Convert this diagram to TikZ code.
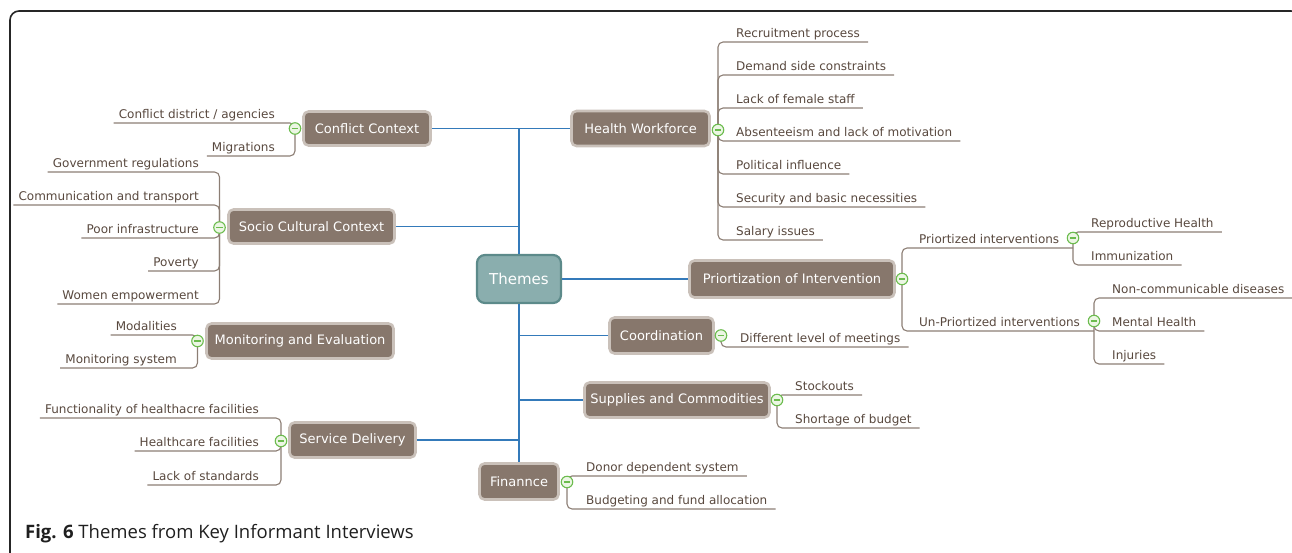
\documentclass[tikz,border=0pt]{standalone}
\usepackage{fontspec}
\setmainfont{DejaVu Sans}
\newfontfamily\captionfont{Open Sans}
\usetikzlibrary{calc}

\definecolor{topicfill}{RGB}{135,119,108}
\definecolor{topichalo}{RGB}{202,193,186}
\definecolor{rootfill}{RGB}{138,174,174}
\definecolor{rootedge}{RGB}{92,138,138}
\definecolor{trunkblue}{RGB}{52,122,186}
\definecolor{leaftext}{RGB}{88,72,62}
\definecolor{leafrule}{RGB}{140,126,116}
\definecolor{markgreen}{RGB}{108,188,78}
\definecolor{markfill}{RGB}{236,246,228}

\tikzset{
  topic/.style={rectangle, rounded corners=5, fill=topicfill, draw=topichalo,
    line width=2.6, text=white, inner sep=0,
    font=\fontsize{13}{15}\selectfont},
  root/.style={rectangle, rounded corners=8, fill=rootfill, draw=rootedge,
    line width=2.2, text=white, inner sep=0,
    font=\fontsize{15}{18}\selectfont},
  branch/.style={draw=trunkblue, line width=1.4},
  leaf/.style={text=leaftext, inner sep=0, font=\fontsize{12}{14}\selectfont},
  leafline/.style={draw=leafrule, line width=1.1, rounded corners=5},
  fold/.style={circle, minimum size=11.5, inner sep=0, draw=markgreen,
    line width=1.1, fill=markfill,
    path picture={\draw[markgreen, line width=1.3]
      ([xshift=-3.2]path picture bounding box.center) --
      ([xshift=3.2]path picture bounding box.center);}},
}

% leaf to the right of its fold marker: name, marker, text x, rule y, text
\newcommand\leafR[5]{%
  \node[leaf, anchor=base west] (#1) at (#3,#4-5) {#5};
  \coordinate (#1-e) at ($(#1.base east)+(8,5)$);
  \draw[leafline] (#2.center) |- (#1-e);}
% leaf to the left of its fold marker: name, marker, text right x, rule y, text
\newcommand\leafL[5]{%
  \node[leaf, anchor=base east] (#1) at (#3,#4-5) {#5};
  \coordinate (#1-e) at ($(#1.base west)+(-5,5)$);
  \draw[leafline] (#2.center) |- (#1-e);}

\begin{document}
\begin{tikzpicture}[x=1pt, y=-1pt]
\useasboundingbox (0,0) rectangle (1292,552);

% frame
\draw[black!85, line width=1.6, rounded corners=9]
  (10,560) -- (10,11) -- (1300,11) -- (1300,560);

% central theme and the main topics
\node[root, minimum width=84, minimum height=48] (root) at (519,279) {Themes};
\node[topic, minimum width=127, minimum height=34] (cc) at (367,128.5) {Conflict Context};
\node[topic, minimum width=138, minimum height=35] (hw) at (640.5,128.5) {Health Workforce};
\node[topic, minimum width=166, minimum height=34] (sc) at (311.5,226.5) {Socio Cultural Context};
\node[topic, minimum width=187, minimum height=35] (me) at (300,341) {Monitoring and Evaluation};
\node[topic, minimum width=126, minimum height=35] (sd) at (352.5,440) {Service Delivery};
\node[topic, minimum width=205, minimum height=37] (pi) at (792,279) {Priortization of Intervention};
\node[topic, minimum width=104, minimum height=36] (co) at (661.5,335.5) {Coordination};
\node[topic, minimum width=185, minimum height=35] (su) at (677,400) {Supplies and Commodities};
\node[topic, minimum width=79, minimum height=36] (fi) at (519,481.5) {Finannce};

% blue trunk and branches
\draw[branch] (cc.east) -- (hw.west);
\draw[branch] (root.north) -- (root.north |- hw.west);
\draw[branch] (sc.east) -- (sc.east -| root.north);
\draw[branch] (root.east) -- (pi.west);
\draw[branch] (co.west) -- (co.west -| root.south);
\draw[branch] (su.west) -- (su.west -| root.south);
\draw[branch] (sd.east) -- (sd.east -| root.south);
\draw[branch] (root.south) -- (fi.north);

% fold markers
\coordinate (m-cc) at (295,128.5);
\coordinate (m-hw) at (718,130);
\coordinate (m-sc) at (219.5,227.5);
\coordinate (m-me) at (197.5,341);
\coordinate (m-sd) at (281,441);
\coordinate (m-pi) at (902,279);
\coordinate (m-p1) at (1073,238);
\coordinate (m-p2) at (1094,321);
\coordinate (m-co) at (721,335.5);
\coordinate (m-su) at (777,400);
\coordinate (m-fi) at (567,482);

% Conflict Context
\leafL{cc1}{m-cc}{275}{123}{Conflict district / agencies}
\leafL{cc2}{m-cc}{275}{156}{Migrations}

% Socio Cultural Context
\leafL{sc1}{m-sc}{199}{172}{Government regulations}
\leafL{sc2}{m-sc}{199}{205}{Communication and transport}
\leafL{sc3}{m-sc}{199}{238}{Poor infrastructure}
\leafL{sc4}{m-sc}{199}{271}{Poverty}
\leafL{sc5}{m-sc}{199}{304}{Women empowerment}

% Monitoring and Evaluation
\leafL{me1}{m-me}{177}{335}{Modalities}
\leafL{me2}{m-me}{177}{368}{Monitoring system}

% Service Delivery
\leafL{sd1}{m-sd}{259}{418}{Functionality of healthacre facilities}
\leafL{sd2}{m-sd}{259}{451}{Healthcare facilities}
\leafL{sd3}{m-sd}{259}{485}{Lack of standards}

% Health Workforce
\leafR{hw1}{m-hw}{736}{42}{Recruitment process}
\leafR{hw2}{m-hw}{736}{75}{Demand side constraints}
\leafR{hw3}{m-hw}{736}{108}{Lack of female staff}
\leafR{hw4}{m-hw}{736}{141}{Absenteeism and lack of motivation}
\leafR{hw5}{m-hw}{736}{174}{Political influence}
\leafR{hw6}{m-hw}{736}{207}{Security and basic necessities}
\leafR{hw7}{m-hw}{736}{240}{Salary issues}

% Priortization of Intervention
\node[leaf, anchor=base west] (pi1) at (919,243) {Priortized interventions};
\coordinate (pi1-e) at (1073,248);
\draw[leafline] (m-pi) |- (pi1-e);
\node[leaf, anchor=base west] (pi2) at (919,326) {Un-Priortized interventions};
\coordinate (pi2-e) at (1094,331);
\draw[leafline] (m-pi) |- (pi2-e);
\leafR{p11}{m-p1}{1091}{232}{Reproductive Health}
\leafR{p12}{m-p1}{1091}{265}{Immunization}
\leafR{p21}{m-p2}{1112}{298}{Non-communicable diseases}
\leafR{p22}{m-p2}{1112}{331}{Mental Health}
\leafR{p23}{m-p2}{1112}{364}{Injuries}

% Coordination
\leafR{co1}{m-co}{740}{347}{Different level of meetings}

% Supplies and Commodities
\leafR{su1}{m-su}{795}{395}{Stockouts}
\leafR{su2}{m-su}{795}{428}{Shortage of budget}

% Finannce
\leafR{fi1}{m-fi}{586}{476}{Donor dependent system}
\leafR{fi2}{m-fi}{586}{509}{Budgeting and fund allocation}

% markers drawn over the rules
\foreach \m in {cc,hw,sc,me,sd,pi,p1,p2,co,su,fi}
  \node[fold] (f-\m) at (m-\m) {};

% caption
\node[anchor=base west, inner sep=0, text=black!88,
      font=\captionfont\fontsize{18.5}{22}\selectfont] (cap) at (25,538)
  {\textbf{Fig. 6} Themes from Key Informant Interviews};
\end{tikzpicture}
\end{document}
